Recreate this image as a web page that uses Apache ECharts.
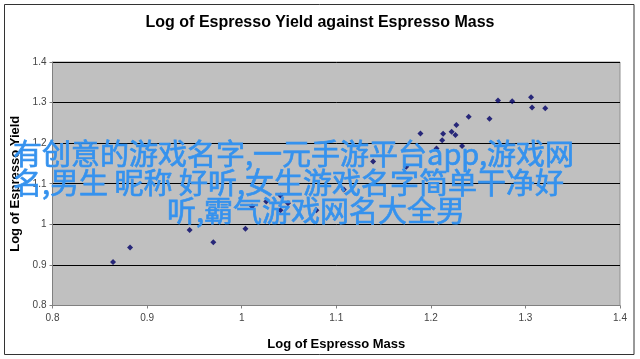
<!DOCTYPE html>
<html>
<head>
<meta charset="utf-8">
<script src="https://cdn.jsdelivr.net/npm/echarts@6/dist/echarts.min.js"></script>
<style>html,body{margin:0;padding:0;background:#fff;}#c{width:640px;height:359px;}</style>
</head>
<body>
<div id="c"></div>
<script>
var title = "Log of Espresso Yield against Espresso Mass";
var xTitle = "Log of Espresso Mass";
var yTitle = "Log of Espresso Yield";
var logMass = [0.864,0.882,0.945,0.970,1.004,1.011,1.026,1.041,1.041,1.049,1.079,1.108,1.139,1.174,1.189,1.206,1.212,1.213,1.222,1.226,1.227,1.233,1.240,1.262,1.271,1.286,1.306,1.307,1.321];
var logYield = [0.907,0.943,0.986,0.956,0.989,1.044,1.056,1.071,1.035,1.052,1.035,1.086,1.155,1.142,1.224,1.187,1.207,1.223,1.228,1.220,1.245,1.193,1.265,1.260,1.305,1.303,1.313,1.288,1.286];
var overlayLines = ["有创意的游戏名字,一元手游平台app,游戏网", "名,男生 昵称 好听,女生游戏名字简单干净好", "听,霸气游戏网名大全男"];

var pts = logMass.map(function(v,i){return [v, logYield[i]];});
var chart = echarts.init(document.getElementById('c'));
var axisCommon = {
  min: 0.8, max: 1.4, interval: 0.1,
  axisLine: {show: true, lineStyle: {color: '#808080', width: 1}},
  axisTick: {show: true, length: 3, lineStyle: {color: '#808080'}},
  axisLabel: {color: '#444', fontFamily: 'Liberation Sans, Arial', fontSize: 10},
  nameTextStyle: {color: '#000', fontFamily: 'Liberation Sans, Arial', fontSize: 13, fontWeight: 'bold'}
};
var lineX = [13, 13, 167];
var lineY = [154, 182.5, 210.5];
var overlay = overlayLines.map(function(t, i){
  return {type: 'text', x: lineX[i], y: lineY[i], z: 100,
    style: {text: t, fill: '#3592ee', font: '29px "Noto Sans CJK SC", sans-serif', align: 'left', verticalAlign: 'middle', stroke: '#3592ee', lineWidth: 0.7}};
});
chart.setOption({
  animation: false,
  backgroundColor: '#fff',
  title: {text: title, left: 'center', top: 10, textStyle: {fontFamily: 'Liberation Sans, Arial', fontSize: 16, fontWeight: 'bold', color: '#000'}},
  grid: {left: 52.5, top: 62, right: 20, bottom: 53.5, show: true, backgroundColor: '#c0c0c0', borderColor: '#909090', borderWidth: 1},
  xAxis: Object.assign({}, axisCommon, {
    type: 'value', name: xTitle, nameLocation: 'middle', nameGap: 32,
    splitLine: {show: false},
    axisLabel: Object.assign({}, axisCommon.axisLabel, {margin: 8})
  }),
  yAxis: Object.assign({}, axisCommon, {
    type: 'value', name: yTitle, nameLocation: 'middle', nameGap: 26, nameRotate: 90,
    splitLine: {show: true, lineStyle: {color: '#000', width: 1}},
    axisLabel: Object.assign({}, axisCommon.axisLabel, {margin: 6})
  }),
  series: [{
    type: 'scatter', data: pts, symbol: 'diamond', symbolSize: 6,
    itemStyle: {color: '#000066'}
  }],
  graphic: [
    {type: 'rect', shape: {x: 4.5, y: 4.5, width: 629.5, height: 350}, style: {fill: 'none', stroke: '#333', lineWidth: 1}, z: 0}
  ].concat(overlay)
});
</script>
</body>
</html>
